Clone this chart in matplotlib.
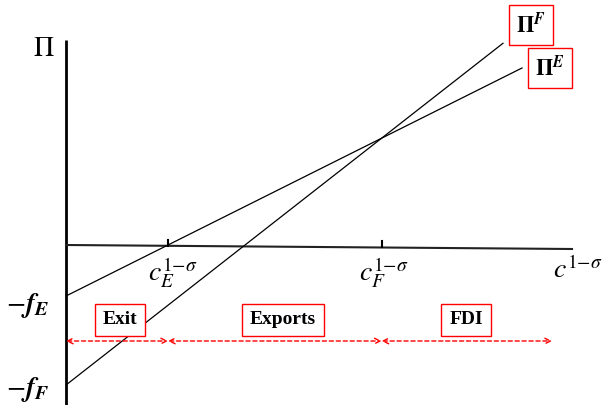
import matplotlib.pyplot as plt

plt.rcParams['mathtext.fontset'] = 'stix'
plt.rcParams['font.family'] = ['Liberation Serif', 'DejaVu Serif']

# fixed costs and profit slopes for exporting (E) and FDI (F)
f_E = 0.51
f_F = 1.40
a_E = 0.50
a_F = 0.782

# where each profit line stops on the right
x_end_E = 4.56
x_end_F = 4.37
x_max = 5.06
x_fdi_end = 4.86

# cutoffs: zero profit for exporters, indifference between exporting and FDI
c_E = f_E / a_E
c_F = (f_F - f_E) / (a_F - a_E)

regions = ['Exit', 'Exports', 'FDI']
region_bounds = [(0.0, c_E), (c_E, c_F), (c_F, x_fdi_end)]
region_label_x = [0.54, 2.17, 4.0]

fig = plt.figure(figsize=(6.03, 4.05), dpi=100)
ax = fig.add_axes([0, 0, 1, 1])
ax.set_xlim(-0.66, 5.37)
ax.set_ylim(-1.60, 2.45)
ax.axis('off')

# axes of the diagram
ax.plot([0, 0], [-1.60, 2.05], color='black', lw=2.0, solid_capstyle='butt')
ax.plot([0, x_max], [0.0, -0.04], color='#222222', lw=1.5)

def axis_y(x):
    return -0.04 * x / x_max

# tick marks at the cutoffs
for c in (c_E, c_F):
    ax.plot([c, c], [axis_y(c), axis_y(c) + 0.06], color='black', lw=1.5)

# profit lines
ax.plot([0, x_end_E], [-f_E, -f_E + a_E * x_end_E], color='black', lw=0.9)
ax.plot([0, x_end_F], [-f_F, -f_F + a_F * x_end_F], color='black', lw=0.9)

red_box = dict(boxstyle='square,pad=0.3', facecolor='white',
               edgecolor='red', lw=1.0)
ax.text(4.65, 2.20, r'$\mathbf{\Pi}^{\mathbfit{F}}$', fontsize=16,
        ha='center', va='center', bbox=red_box)
ax.text(4.84, 1.77, r'$\mathbf{\Pi}^{\mathbfit{E}}$', fontsize=16,
        ha='center', va='center', bbox=red_box)

# axis labels
ax.text(-0.22, 1.96, r'$\Pi$', fontsize=20, ha='center', va='center')
ax.text(-0.38, -0.60, r'$-\mathbfit{f}_{\mathbfit{E}}$', fontsize=20,
        ha='center', va='center')
ax.text(-0.38, -1.45, r'$-\mathbfit{f}_{\mathbfit{F}}$', fontsize=20,
        ha='center', va='center')
ax.text(c_E + 0.05, -0.28, r'$c_E^{1{-}\sigma}$', fontsize=20,
        ha='center', va='center')
ax.text(c_F + 0.02, -0.28, r'$c_F^{1{-}\sigma}$', fontsize=20,
        ha='center', va='center')
ax.text(5.12, -0.25, r'$c^{1{-}\sigma}$', fontsize=20, ha='center', va='center')

# regions along the cutoff axis
for name, (x0, x1), xl in zip(regions, region_bounds, region_label_x):
    ax.annotate('', xy=(x1, -0.96), xytext=(x0, -0.96),
                arrowprops=dict(arrowstyle='<->', color='red', lw=1.0,
                                linestyle=(0, (3, 2)), shrinkA=0, shrinkB=0,
                                mutation_scale=10))
    ax.text(xl, -0.75, name, fontsize=14, fontweight='bold', ha='center',
            va='center',
            bbox=dict(boxstyle='square,pad=0.4', facecolor='white',
                      edgecolor='red', lw=1.0))

fig.savefig('out.png', dpi=100)
